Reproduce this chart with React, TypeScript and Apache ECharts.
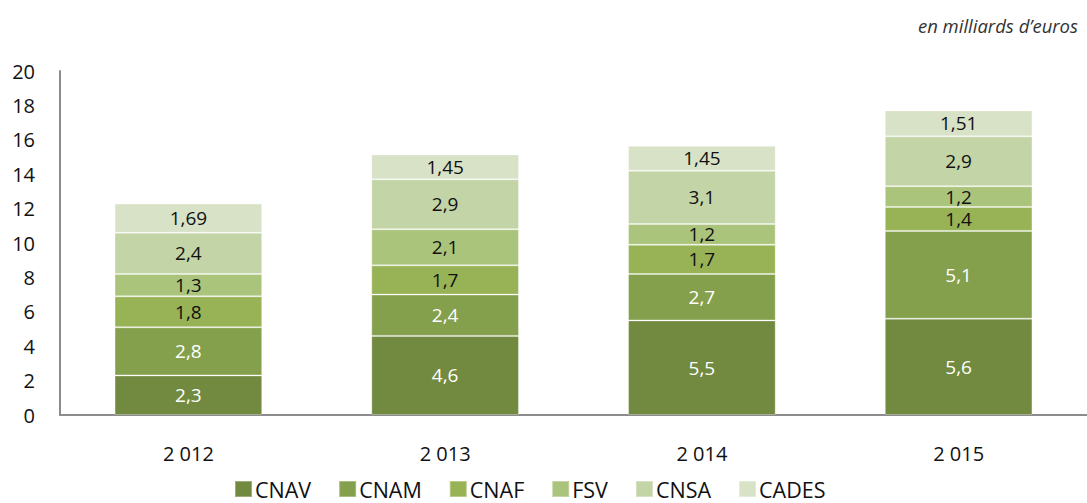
import React, { useEffect, useRef } from "react";
import * as echarts from "echarts";

const categories = ["2 012", "2 013", "2 014", "2 015"];
const seriesNames = ["CNAV", "CNAM", "CNAF", "FSV", "CNSA", "CADES"];
const cnav = [2.3, 4.6, 5.5, 5.6];
const cnam = [2.8, 2.4, 2.7, 5.1];
const cnaf = [1.8, 1.7, 1.7, 1.4];
const fsv = [1.3, 2.1, 1.2, 1.2];
const cnsa = [2.4, 2.9, 3.1, 2.9];
const cades = [1.69, 1.45, 1.45, 1.51];
const yTicks = [0, 2, 4, 6, 8, 10, 12, 14, 16, 18, 20];

const colors = ["#728a40", "#84a04c", "#98b356", "#abc47b", "#c3d4a6", "#d8e2c6"];
const labelColors = ["#ffffff", "#ffffff", "#111111", "#111111", "#111111", "#111111"];
const FONT = "'Open Sans', 'Noto Sans', sans-serif";

export default function App() {
  const ref = useRef<HTMLDivElement>(null);
  useEffect(() => {
    document.body.style.margin = "0";
    const chart = echarts.init(ref.current!, null, { renderer: "svg" });
    const data = [cnav, cnam, cnaf, fsv, cnsa, cades];
    chart.setOption({
      animation: false,
      backgroundColor: "#ffffff",
      textStyle: { fontFamily: FONT },
      graphic: [
        {
          type: "text",
          right: 9,
          top: 16,
          style: {
            text: "en milliards d\u2019euros",
            font: "italic 18.5px " + FONT,
            fill: "#333333",
          },
        },
      ],
      grid: { left: 60, right: -3, top: 71, bottom: 88, containLabel: false },
      legend: {
        top: 478,
        left: 234,
        padding: 0,
        itemWidth: 17,
        itemHeight: 16,
        itemGap: 27,
        icon: "rect",
        textStyle: { fontSize: 21.5, lineHeight: 22, color: "#111", fontFamily: FONT, padding: [0, 0, 0, -2] },
        data: seriesNames,
      },
      xAxis: {
        type: "category",
        data: categories,
        axisLine: { lineStyle: { color: "#8c8c8c", width: 2 } },
        axisTick: { show: false },
        axisLabel: { fontSize: 20, color: "#111", margin: 28, fontFamily: FONT },
      },
      yAxis: {
        type: "value",
        min: yTicks[0],
        max: yTicks[yTicks.length - 1],
        interval: 2,
        axisLine: { show: true, lineStyle: { color: "#8c8c8c", width: 2 } },
        axisTick: { show: false },
        splitLine: { show: false },
        axisLabel: { fontSize: 20, color: "#111", margin: 25, fontFamily: FONT },
      },
      series: seriesNames.map((name, i) => ({
        name,
        type: "bar",
        stack: "total",
        barWidth: "57.5%",
        data: data[i],
        itemStyle: {
          color: colors[i],
          borderColor: "rgba(255,255,255,0.3)",
          borderWidth: 1,
        },
        label: {
          show: true,
          position: "inside",
          fontSize: 19,
          fontFamily: FONT,
          color: labelColors[i],
          formatter: (p: any) => String(p.value).replace(".", ","),
        },
      })),
    });
    return () => chart.dispose();
  }, []);
  return <div ref={ref} style={{ width: 1087, height: 503 }} />;
}
